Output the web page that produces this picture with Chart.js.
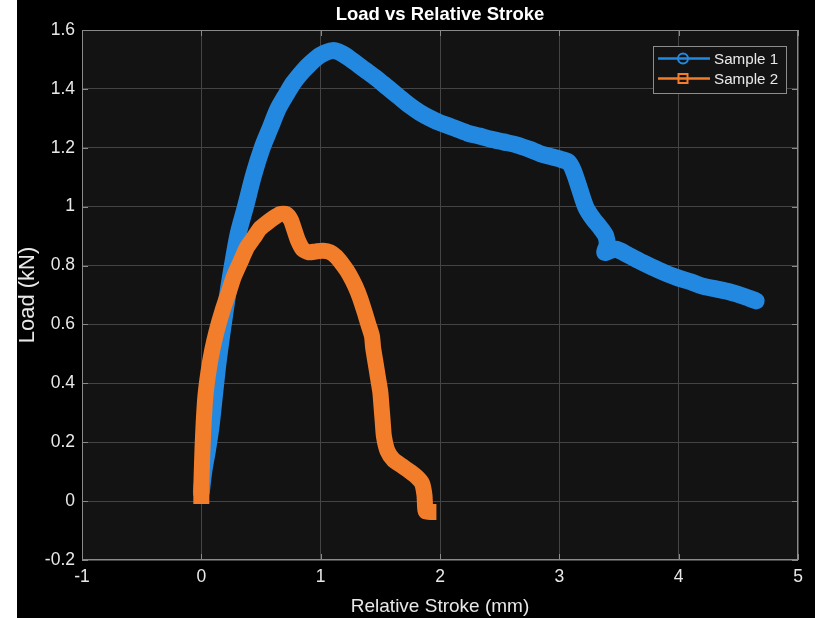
<!DOCTYPE html>
<html><head><meta charset="utf-8">
<script src="https://cdn.jsdelivr.net/npm/chart.js@4.4.1/dist/chart.umd.min.js"></script>
<style>
html,body{margin:0;padding:0;background:#fff;width:815px;height:618px;overflow:hidden}
#wrap{position:absolute;left:17px;top:0;width:798px;height:618px;background:#000}
canvas{display:block}
</style></head><body>
<div id="wrap"><canvas id="c" width="798" height="618"></canvas></div>
<script>
// ---------- data ----------
const chartTitle = 'Load vs Relative Stroke';
const xAxisTitle = 'Relative Stroke (mm)';
const yAxisTitle = 'Load (kN)';
const seriesNames = ['Sample 1', 'Sample 2'];
const seriesColors = ['#2389e0', '#f27d2b'];
const xTickValues = [-1, 0, 1, 2, 3, 4, 5];
const xTickLabels = ['-1', '0', '1', '2', '3', '4', '5'];
const yTickValues = [-0.2, 0, 0.2, 0.4, 0.6, 0.8, 1.0, 1.2, 1.4, 1.6];
const yTickLabels = ['-0.2', '0', '0.2', '0.4', '0.6', '0.8', '1', '1.2', '1.4', '1.6'];

const stroke1 = [0.0, 0.02, 0.05, 0.08, 0.11, 0.14, 0.18, 0.22, 0.26, 0.31, 0.37, 0.44, 0.51, 0.58, 0.64, 0.71, 0.77, 0.85, 0.91, 1.00, 1.10, 1.18, 1.27, 1.37, 1.47, 1.56, 1.65, 1.74, 1.83, 1.92, 2.00, 2.10, 2.23, 2.33, 2.42, 2.53, 2.64, 2.75, 2.84, 2.93, 3.02, 3.08, 3.12, 3.17, 3.22, 3.28, 3.34, 3.39, 3.40, 3.38, 3.42, 3.48, 3.58, 3.70, 3.83, 3.98, 4.10, 4.20, 4.32, 4.43, 4.55, 4.65];
const load1 = [0.03, 0.10, 0.17, 0.25, 0.36, 0.47, 0.59, 0.70, 0.80, 0.91, 1.00, 1.11, 1.20, 1.27, 1.33, 1.38, 1.42, 1.46, 1.485, 1.515, 1.53, 1.52, 1.495, 1.465, 1.435, 1.405, 1.375, 1.345, 1.32, 1.30, 1.285, 1.27, 1.25, 1.24, 1.23, 1.22, 1.21, 1.195, 1.18, 1.17, 1.16, 1.15, 1.12, 1.06, 1.00, 0.96, 0.93, 0.90, 0.87, 0.845, 0.85, 0.855, 0.835, 0.81, 0.785, 0.76, 0.745, 0.73, 0.72, 0.71, 0.695, 0.68];

const stroke2 = [0.0, 0.0, 0.005, 0.01, 0.02, 0.035, 0.06, 0.09, 0.13, 0.18, 0.23, 0.27, 0.33, 0.38, 0.44, 0.49, 0.55, 0.60, 0.66, 0.71, 0.75, 0.78, 0.81, 0.85, 0.90, 0.96, 1.02, 1.08, 1.13, 1.19, 1.24, 1.29, 1.33, 1.37, 1.40, 1.43, 1.44, 1.46, 1.48, 1.50, 1.51, 1.52, 1.53, 1.56, 1.61, 1.68, 1.75, 1.81, 1.85, 1.87, 1.875, 1.88, 1.93, 1.97];
const load2 = [-0.01, 0.05, 0.12, 0.18, 0.27, 0.36, 0.44, 0.51, 0.58, 0.65, 0.71, 0.76, 0.815, 0.86, 0.895, 0.925, 0.945, 0.96, 0.975, 0.975, 0.955, 0.92, 0.885, 0.855, 0.845, 0.848, 0.85, 0.845, 0.83, 0.80, 0.77, 0.73, 0.69, 0.64, 0.60, 0.56, 0.52, 0.47, 0.42, 0.37, 0.32, 0.27, 0.22, 0.17, 0.14, 0.12, 0.10, 0.08, 0.06, 0.02, -0.02, -0.035, -0.037, -0.037];

// ---------- fonts ----------
function hasFont(name) {
  const c = document.createElement('canvas').getContext('2d');
  const t = 'Sample 1 Relative Stroke 0.123';
  c.font = '20px monospace';
  const a = c.measureText(t).width;
  c.font = '20px "' + name + '", monospace';
  return Math.abs(c.measureText(t).width - a) > 0.5;
}
const NARROW = hasFont('Liberation Sans Narrow');
const HF = NARROW ? '"Liberation Sans Narrow", "Liberation Sans", Arial, sans-serif' : '"Liberation Sans", Arial, sans-serif';
const VF = '"Liberation Sans", Arial, sans-serif';
const SZ = NARROW ? {title: 22.5, tick: 21, xlab: 23, legend: 18.5} : {title: 18.5, tick: 17.5, xlab: 19, legend: 15.2};

const TEXT = '#e8e8e8';
const PLOT_BG = '#131313';
const GRID = '#444444';
const AXIS = '#8a8a8a';

const pts = (xs, ys) => xs.map((x, i) => ({x: x, y: ys[i]}));

const bgPlugin = {
  id: 'plotbg',
  beforeDraw(chart) {
    const {ctx, chartArea: a} = chart;
    ctx.save();
    ctx.fillStyle = PLOT_BG;
    ctx.fillRect(a.left, a.top, a.right - a.left, a.bottom - a.top);
    ctx.restore();
  },
  beforeDatasetsDraw(chart) {
    const {ctx, chartArea: a, scales} = chart;
    ctx.save();
    ctx.strokeStyle = AXIS;
    ctx.lineWidth = 1;
    ctx.strokeRect(Math.round(a.left) + 0.5, Math.round(a.top) + 0.5, Math.round(a.right - a.left) - 1, Math.round(a.bottom - a.top) - 1);
    const L = 6;
    ctx.beginPath();
    xTickValues.forEach(v => {
      const x = Math.round(scales.x.getPixelForValue(v)) + 0.5;
      ctx.moveTo(x, a.bottom); ctx.lineTo(x, a.bottom - L);
      ctx.moveTo(x, a.top); ctx.lineTo(x, a.top + L);
    });
    yTickValues.forEach(v => {
      const y = Math.round(scales.y.getPixelForValue(v)) + 0.5;
      ctx.moveTo(a.left, y); ctx.lineTo(a.left + L, y);
      ctx.moveTo(a.right, y); ctx.lineTo(a.right - L, y);
    });
    ctx.stroke();
    ctx.restore();
  }
};

const legendPlugin = {
  id: 'matlabLegend',
  afterDraw(chart) {
    const {ctx, chartArea: a} = chart;
    const w = 133, h = 47;
    const left = a.right - 12 - w, top = a.top + 16;
    ctx.save();
    ctx.fillStyle = PLOT_BG;
    ctx.fillRect(left, top, w, h);
    ctx.strokeStyle = '#8c8c8c';
    ctx.lineWidth = 1;
    ctx.strokeRect(left + 0.5, top + 0.5, w, h);
    chart.data.datasets.forEach((ds, i) => {
      const y = top + 12.5 + i * 20;
      ctx.strokeStyle = ds.borderColor;
      ctx.lineWidth = 2.5;
      ctx.beginPath();
      ctx.moveTo(left + 5, y); ctx.lineTo(left + 57, y);
      ctx.stroke();
      ctx.lineWidth = 2;
      ctx.beginPath();
      if (i === 0) {
        ctx.arc(left + 30, y, 5, 0, Math.PI * 2);
      } else {
        ctx.rect(left + 25.5, y - 4.5, 9, 9);
      }
      ctx.stroke();
      ctx.fillStyle = TEXT;
      ctx.font = SZ.legend + 'px ' + HF;
      ctx.textBaseline = 'middle';
      ctx.textAlign = 'left';
      ctx.fillText(ds.label, left + 61, y + 1);
    });
    ctx.restore();
  }
};

new Chart(document.getElementById('c'), {
  type: 'line',
  data: {
    datasets: [
      {label: seriesNames[0], data: pts(stroke1, load1), borderColor: seriesColors[0], backgroundColor: seriesColors[0],
       borderWidth: 17, pointRadius: 0, tension: 0.3, borderCapStyle: 'round', borderJoinStyle: 'round', fill: false, order: 1},
      {label: seriesNames[1], data: pts(stroke2, load2), borderColor: seriesColors[1], backgroundColor: seriesColors[1],
       borderWidth: 16, pointRadius: 0, tension: 0.2, borderCapStyle: 'butt', borderJoinStyle: 'round', fill: false, order: 0}
    ]
  },
  options: {
    responsive: false,
    animation: false,
    devicePixelRatio: 1,
    layout: {padding: {left: 0, right: 17, top: 0, bottom: 0}},
    plugins: {
      legend: {display: false},
      tooltip: {enabled: false},
      title: {
        display: true, text: chartTitle, color: '#ffffff', fullSize: false,
        font: {family: HF, size: SZ.title, weight: 'bold', lineHeight: 1.2},
        padding: {top: 4, bottom: 30 - 4 - SZ.title * 1.2}
      }
    },
    scales: {
      x: {
        type: 'linear', min: -1, max: 5,
        afterBuildTicks: s => { s.ticks = xTickValues.map(v => ({value: v})); },
        afterFit: s => { s.height = 58; },
        ticks: {color: TEXT, font: {family: HF, size: SZ.tick}, padding: 7, maxRotation: 0,
                callback: (v, i) => xTickLabels[i]},
        grid: {color: GRID, lineWidth: 1, drawTicks: false},
        border: {display: false},
        title: {display: true, text: xAxisTitle, color: TEXT, font: {family: HF, size: SZ.xlab, lineHeight: 1.2}, padding: {top: 0, bottom: 0}}
      },
      y: {
        type: 'linear', min: -0.2, max: 1.6,
        afterBuildTicks: s => { s.ticks = yTickValues.map(v => ({value: v})); },
        afterFit: s => { s.width = 65; },
        ticks: {color: TEXT, font: {family: HF, size: SZ.tick}, padding: 7,
                callback: (v, i) => yTickLabels[i]},
        grid: {color: GRID, lineWidth: 1, drawTicks: false},
        border: {display: false},
        title: {display: true, text: yAxisTitle, color: TEXT, font: {family: VF, size: 22, lineHeight: 1}, padding: {top: 0, bottom: 0}}
      }
    }
  },
  plugins: [bgPlugin, legendPlugin]
});
</script>
</body></html>
